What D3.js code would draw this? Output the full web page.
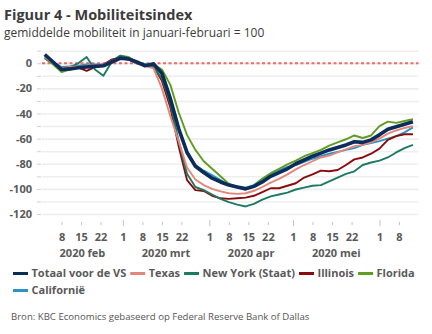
<!DOCTYPE html>
<html>
<head>
<meta charset="utf-8">
<script src="https://cdnjs.cloudflare.com/ajax/libs/d3/7.8.5/d3.min.js"></script>
<style>
  body { margin: 0; background: #fff; }
  text { font-family: "Open Sans", "Noto Sans", sans-serif; }
</style>
</head>
<body>
<div id="chart"></div>
<script>
// mobility index, every third day (jan-feb average = 100, shown as change)
const dates = [
  "2020-02-02","2020-02-05","2020-02-08","2020-02-11","2020-02-14","2020-02-17","2020-02-20","2020-02-23","2020-02-26","2020-02-29",
  "2020-03-03","2020-03-06","2020-03-09","2020-03-12","2020-03-15","2020-03-18","2020-03-21","2020-03-24","2020-03-27","2020-03-30",
  "2020-04-02","2020-04-05","2020-04-08","2020-04-11","2020-04-14","2020-04-17","2020-04-20","2020-04-23","2020-04-26","2020-04-29",
  "2020-05-02","2020-05-05","2020-05-08","2020-05-11","2020-05-14","2020-05-17","2020-05-20","2020-05-23","2020-05-26","2020-05-29",
  "2020-06-01","2020-06-04","2020-06-07","2020-06-10","2020-06-13"
];

const totaal = [7, 1, -5, -4.5, -3.5, -3, -2.5, -2, 1, 4, 3.5, 1, -2, -0.5, -8, -28, -52, -71, -82, -87,
  -91.5, -94.5, -97, -98.5, -100, -98, -94.5, -90, -87, -84, -80, -77, -74, -71.5, -69, -67, -65, -62.5, -63, -61,
  -57, -52.5, -50.5, -48.5, -46.5];
const texas = [5, 0, -4, -3, -2.5, -2, -1.5, -1, 2, 4, 3, 0, -2, -4, -20, -42, -62, -83, -92.5, -97,
  -100, -102, -103.5, -104, -103.5, -101.5, -98.5, -95, -92, -88.5, -84.5, -81, -78, -75, -73.5, -71, -68.5, -66, -65, -63,
  -60, -56, -53.5, -51.5, -50];
const newYork = [4, 0, -4, -3, 0, 5, -5, -10, 1, 6, 4, 1, -1, -3, -12, -32, -62, -88, -98.5, -101,
  -104.5, -108, -110.5, -112.5, -114, -112, -108.5, -106, -104.5, -103, -100.5, -99, -97.5, -97, -94, -91, -88, -86, -81, -79,
  -77.5, -75, -71, -67.5, -65];
const illinois = [5, 0, -4, -4, -3.5, -6, -3, -1, 3, 4, 3, 0, -2, -2.5, -14, -35, -66, -93, -101, -101.7,
  -105.5, -107.5, -108, -107.5, -107, -105.5, -102.5, -99.5, -99.5, -97.5, -95.5, -91, -88.5, -85.5, -86, -85, -81, -76.5, -75, -72,
  -68, -61, -58, -56.5, -56.5];
const florida = [4, -1, -7, -5, -3.5, -2, -2, -2, 2, 6, 5, 1, -2, -1, -5, -17, -39, -57, -69, -78,
  -84, -90, -96, -98.5, -99.5, -98, -92, -87.5, -84, -80.5, -77.5, -74, -71.5, -69, -65.5, -63, -60.5, -57.5, -59.5, -57.5,
  -50, -46.5, -47.5, -46, -44.5];
const californie = [6, 1, -3, -2.5, -2, -1, -1, -1, 2, 5, 4, 1, -1, 0, -7, -27, -52, -70, -81, -85.5,
  -89, -93, -96.5, -99, -99, -97, -92, -88, -85, -82.5, -81, -78.5, -76, -74, -72, -70.5, -69, -67.5, -65, -63.5,
  -62, -60, -58, -55, -51];

const seriesNames = ["Totaal voor de VS", "Texas", "New York (Staat)", "Illinois", "Florida", "Californië"];
const seriesValues = [totaal, texas, newYork, illinois, florida, californie];
const colors = ["#0c2c59", "#e3877d", "#1d7a62", "#8a0b0e", "#5e9d1f", "#2c93c6"];

const yTicks = [-120, -110, -100, -90, -80, -70, -60, -50, -40, -30, -20, -10, 0, 10];
const dayTicks = ["2020-02-08","2020-02-15","2020-02-22","2020-03-01","2020-03-08","2020-03-15","2020-03-22",
  "2020-04-01","2020-04-08","2020-04-15","2020-04-22","2020-05-01","2020-05-08","2020-05-15","2020-05-22",
  "2020-06-01","2020-06-08"];
const monthLabels = ["2020 feb", "2020 mrt", "2020 apr", "2020 mei"];
const monthStarts = ["2020-02-01", "2020-03-01", "2020-04-01", "2020-05-01", "2020-06-01"];

const parse = d3.timeParse("%Y-%m-%d");
const W = 432, H = 334;
const plotLeft = 42, plotRight = 418.5, plotTop = 50.7, plotBottom = 214;
const labelFont = 11, labelColor = "#595959";

const svg = d3.select("#chart").append("svg")
  .attr("width", W).attr("height", H);

svg.append("rect").attr("width", W).attr("height", H).attr("fill", "#fff");

// title block
svg.append("text").attr("x", 4).attr("y", 20)
  .attr("font-size", 14.5).attr("font-weight", 700).attr("fill", "#3b3b3b")
  .text("Figuur 4 - Mobiliteitsindex");
svg.append("text").attr("x", 4).attr("y", 37)
  .attr("font-size", 12).attr("fill", "#3b3b3b")
  .text("gemiddelde mobiliteit in januari-februari = 100");

const x = d3.scaleTime()
  .domain([parse("2020-02-01"), parse("2020-06-15")])
  .range([plotLeft, plotRight]);
const y = d3.scaleLinear()
  .domain([-120, 10])
  .range([plotBottom, plotTop]);

// horizontal grid
svg.append("g")
  .attr("transform", `translate(${plotLeft},0)`)
  .call(d3.axisLeft(y).tickValues(yTicks).tickSize(-(plotRight - plotLeft)).tickFormat(""))
  .call(g => g.select(".domain").remove())
  .call(g => g.selectAll("line").attr("stroke", "#eeeeee").attr("stroke-width", 1.6));

// y axis: small ticks, labels every 20
svg.append("g")
  .attr("transform", `translate(${plotLeft - 1},0)`)
  .call(d3.axisLeft(y).tickValues(yTicks).tickSize(4).tickPadding(5)
    .tickFormat(d => (d % 20 === 0 && d <= 0) ? d : ""))
  .call(g => g.select(".domain").remove())
  .call(g => g.selectAll("line").attr("stroke", "#cfcfcf"))
  .call(g => g.selectAll("text").attr("font-size", labelFont).attr("font-weight", 700)
    .attr("fill", labelColor).style("font-family", "'Open Sans', sans-serif"));

// zero reference line
svg.append("line")
  .attr("x1", plotLeft).attr("x2", plotRight)
  .attr("y1", y(0)).attr("y2", y(0))
  .attr("stroke", "#f06a6a").attr("stroke-width", 2)
  .attr("stroke-dasharray", "3,2.5");

// x axis: day numbers
const fmtDay = d3.timeFormat("%Y-%m-%d");
const monthSet = new Set(monthStarts);
const xAxis = svg.append("g")
  .attr("transform", `translate(0,${plotBottom + 8})`)
  .call(d3.axisBottom(x).tickValues(dayTicks.map(parse)).tickSize(3).tickPadding(8)
    .tickFormat(d3.timeFormat("%-d")))
  .call(g => g.select(".domain").remove())
  .call(g => g.selectAll("text").attr("font-size", labelFont).attr("font-weight", 700)
    .attr("fill", labelColor).style("font-family", "'Open Sans', sans-serif"));
xAxis.selectAll(".tick line")
  .attr("stroke", "#c4c4c4")
  .attr("y1", d => monthSet.has(fmtDay(d)) ? -2 : 0)
  .attr("y2", d => monthSet.has(fmtDay(d)) ? 4 : 3);

// month names centred under each month
svg.append("g").selectAll("text")
  .data(monthLabels)
  .join("text")
  .attr("x", (d, i) => (x(parse(monthStarts[i])) + x(parse(monthStarts[i + 1]))) / 2)
  .attr("y", 257)
  .attr("text-anchor", "middle")
  .attr("font-size", labelFont).attr("font-weight", 700).attr("fill", labelColor)
  .text(d => d);

// lines, total drawn last so it sits on top
const line = d3.line()
  .x((d, i) => x(parse(dates[i])))
  .y(d => y(d));

const drawOrder = [5, 4, 3, 2, 1, 0];
svg.append("g").selectAll("path")
  .data(drawOrder)
  .join("path")
  .attr("fill", "none")
  .attr("stroke", i => colors[i])
  .attr("stroke-width", i => i === 0 ? 3.6 : 1.9)
  .attr("stroke-linejoin", "round")
  .attr("d", i => line(seriesValues[i]));

// legend, wraps onto a second row
const legend = svg.append("g");
let lx = 13, ly = 273.5;
seriesNames.forEach((name, i) => {
  const item = legend.append("g");
  const t = item.append("text")
    .attr("x", 18.5).attr("y", 0).attr("dy", "0.35em")
    .attr("font-size", labelFont).attr("font-weight", 700).attr("fill", labelColor)
    .text(name);
  const w = 18.5 + t.node().getComputedTextLength();
  if (lx + w > 424) { lx = 13; ly += 17; }
  item.attr("transform", `translate(${lx},${ly})`);
  item.append("line")
    .attr("x1", 0).attr("x2", 15)
    .attr("stroke", colors[i]).attr("stroke-width", 3);
  lx += w + 4;
});

// source note
svg.append("text").attr("x", 11).attr("y", 320)
  .attr("font-size", 9.6).attr("fill", "#555")
  .text("Bron: KBC Economics gebaseerd op Federal Reserve Bank of Dallas");
</script>
</body>
</html>
